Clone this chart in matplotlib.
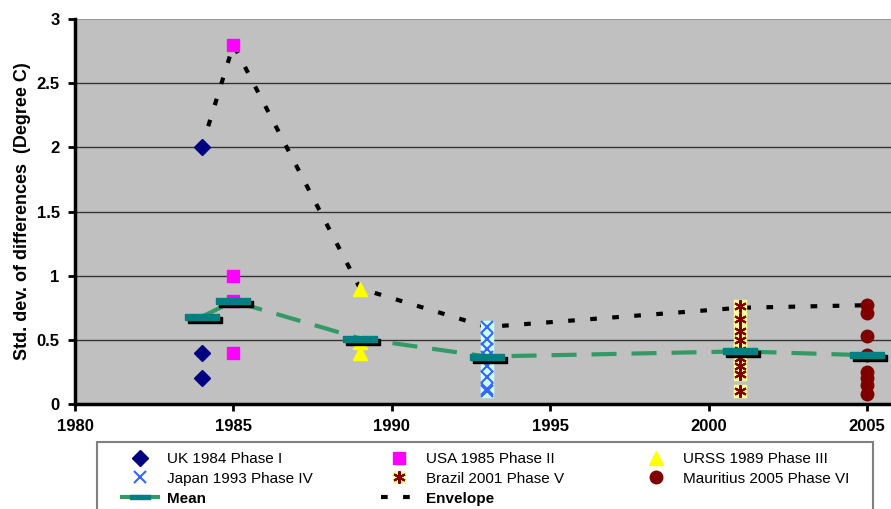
import numpy as np
import matplotlib
matplotlib.use("Agg")
import matplotlib.pyplot as plt
import matplotlib.transforms as mtransforms
from matplotlib.lines import Line2D
from matplotlib.patches import Rectangle

plt.rcParams['font.family'] = ['Liberation Sans', 'DejaVu Sans']

# values
uk_year, uk_vals = 1984, [2.0, 0.4, 0.2]
usa_year, usa_vals = 1985, [2.8, 1.0, 0.8, 0.4]
urss_year, urss_vals = 1989, [0.9, 0.48, 0.4]
japan_year, japan_vals = 1993, [0.6, 0.51, 0.43, 0.37, 0.3, 0.21, 0.12, 0.1]
brazil_year, brazil_vals = 2001, [0.76, 0.66, 0.57, 0.5, 0.42, 0.36, 0.3, 0.23, 0.1]
maur_year, maur_vals = 2005, [0.77, 0.71, 0.53, 0.38, 0.25, 0.2, 0.15, 0.08]

years = [1984, 1985, 1989, 1993, 2001, 2005]
mean_vals = [0.68, 0.80, 0.51, 0.37, 0.41, 0.38]
envelope_vals = [2.0, 2.8, 0.9, 0.6, 0.75, 0.77]

labels = ["UK 1984 Phase I", "USA 1985 Phase II", "URSS 1989 Phase III",
          "Japan 1993 Phase IV", "Brazil 2001 Phase V", "Mauritius 2005 Phase VI",
          "Mean", "Envelope"]

fig = plt.figure(figsize=(8.91, 5.09), dpi=100)
ax = fig.add_axes([75 / 891, 1 - 404 / 509, 1 - 75 / 891, (404 - 19) / 509])
ax.set_facecolor('#C0C0C0')

# envelope and mean lines
env_dash = (1.6, 3.7)
mean_dash = (6, 3.6)
ax.plot(years, envelope_vals, color='black', lw=3, dashes=env_dash, zorder=3)
ax.plot(years, mean_vals, color='#339966', lw=3, dashes=mean_dash, zorder=3)


def col(year, vals):
    return [year] * len(vals), vals


h_uk, = ax.plot(*col(uk_year, uk_vals), ls='none', marker='D', ms=8,
                color='#000080', zorder=4)
h_usa, = ax.plot(*col(usa_year, usa_vals), ls='none', marker='s', ms=9,
                 color='#FF00FF', zorder=4)
h_urss, = ax.plot(*col(urss_year, urss_vals), ls='none', marker='^', ms=10,
                  color='#FFFF00', zorder=4)
ax.plot(*col(japan_year, japan_vals), ls='none', marker='s', ms=8,
        color='#CCFFFF', zorder=4)
h_jap, = ax.plot(*col(japan_year, japan_vals), ls='none', marker='x', ms=8,
                 mew=1.5, color='#3366FF', zorder=4)
h_bra_bg, = ax.plot(*col(brazil_year, brazil_vals), ls='none', marker='s',
                    ms=8, color='#FFFF99', zorder=4)
h_bra, = ax.plot(*col(brazil_year, brazil_vals), ls='none', marker=(6, 2, 0),
                 ms=9, mew=1.5, color='#800000', zorder=4)
h_mau, = ax.plot(*col(maur_year, maur_vals), ls='none', marker='o', ms=9,
                 color='#800000', zorder=4)

# mean bars with shadow
bar = [(-1, -0.18), (1, -0.18), (1, 0.18), (-1, 0.18), (-1, -0.18)]
shadow = mtransforms.offset_copy(ax.transData, fig=fig, x=3, y=-3, units='dots')
ax.plot(years, mean_vals, ls='none', marker=bar, ms=24, color='black',
        transform=shadow, zorder=5)
ax.plot(years, mean_vals, ls='none', marker=bar, ms=24, color='#008080',
        zorder=6)

ax.set_xlim(1980, 1980 + (891 - 75) / 31.68)
ax.set_ylim(0, 3)
ax.set_xticks([1980, 1985, 1990, 1995, 2000, 2005])
ax.set_yticks(np.arange(0, 3.01, 0.5))
ax.set_yticklabels(['0', '0.5', '1', '1.5', '2', '2.5', '3'])
for y in np.arange(0.5, 2.6, 0.5):
    ax.axhline(y, color='#333333', lw=1, zorder=1)

for s in ['top', 'right']:
    ax.spines[s].set_visible(False)
ax.axhline(3, color='#999999', lw=1.5, zorder=1)
ax.spines['left'].set_linewidth(2.5)
ax.spines['bottom'].set_linewidth(2.5)
ax.tick_params(axis='both', direction='out', length=5, width=2,
               labelsize=12, pad=6)
for t in ax.get_xticklabels() + ax.get_yticklabels():
    t.set_fontweight('bold')
ax.set_ylabel("Std. dev. of differences  (Degree C)", fontsize=13,
              fontweight='bold', labelpad=4)

# legend: frame plus three single-column legends
fig.add_artist(Rectangle((97 / 891, -0.05), 776 / 891, (509 - 442) / 509 + 0.05,
                         transform=fig.transFigure, fill=False,
                         edgecolor='#808080', lw=1.5))
h_mean = Line2D([], [], color='#339966', lw=3, marker=bar, ms=14,
                mfc='#008080', mec='#008080', markevery=[1])
h_env = Line2D([], [], color='black', lw=3, dashes=env_dash)
columns = [([h_uk, h_jap, h_mean], [labels[0], labels[3], labels[6]], 122),
           ([h_usa, (h_bra_bg, h_bra), h_env], [labels[1], labels[4], labels[7]], 381),
           ([h_urss, h_mau], [labels[2], labels[5]], 638)]
for hs, ls, x0 in columns:
    leg = fig.legend(hs, ls, loc='upper left',
                     bbox_to_anchor=(x0 / 891, 1 - 452 / 509),
                     fontsize=11, frameon=False, borderpad=0, borderaxespad=0,
                     labelspacing=0.38, handlelength=2.35, handletextpad=0.6)
    for t in leg.get_texts():
        if t.get_text() in ('Mean', 'Envelope'):
            t.set_fontweight('bold')

fig.savefig('out.png', dpi=100)
